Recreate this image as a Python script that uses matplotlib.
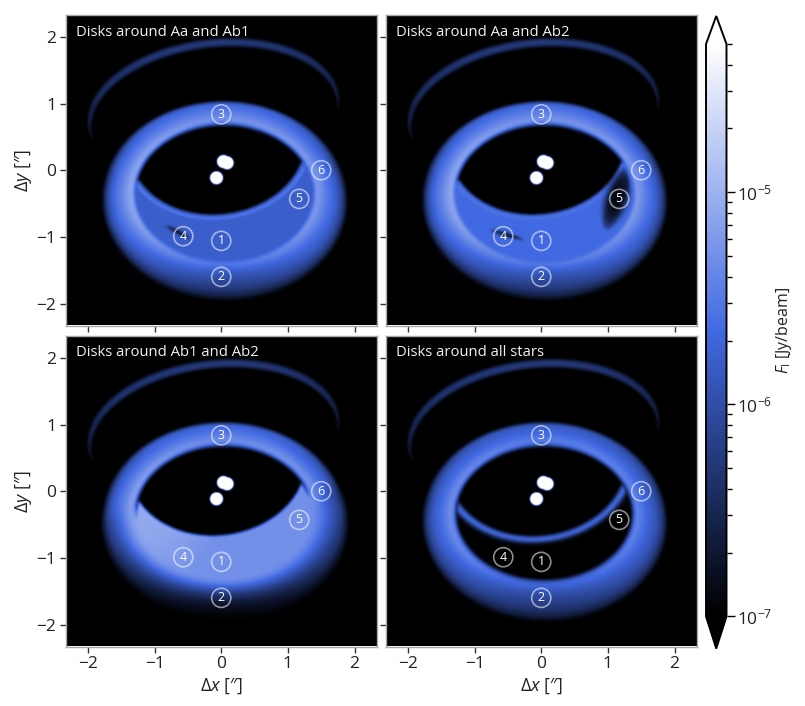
import numpy as np
import matplotlib
matplotlib.use("Agg")
import matplotlib.pyplot as plt
from matplotlib.colors import LinearSegmentedColormap, LogNorm

plt.rcParams['font.family'] = ['Open Sans', 'DejaVu Sans']
plt.rcParams['mathtext.fontset'] = 'custom'
plt.rcParams['mathtext.rm'] = 'Open Sans'
plt.rcParams['mathtext.it'] = 'Open Sans:italic'
plt.rcParams['mathtext.bf'] = 'Open Sans:bold'

# Panels
panel_titles = ["Disks around Aa and Ab1", "Disks around Aa and Ab2",
                "Disks around Ab1 and Ab2", "Disks around all stars"]
# colour position (0 = 1e-7, 1 = 5e-5) for each panel
floor_level = [0.45, 0.50, 0.68, 0.0]
band_level = [0.58, 0.56, 0.0, 0.52]
rim_level = [0.67, 0.67, 0.65, 0.59]

# Radial profile of the ring, inner edge (0) to outer edge (1)
profile_t = [0.0, 0.05, 0.12, 0.22, 0.35, 0.5, 0.7, 0.82, 0.92, 1.0]
profile_p = [0.0, 0.30, 0.82, 1.0, 0.94, 0.84, 0.72, 0.58, 0.34, 0.0]

# Ellipses: centre x, centre y, semi axes, tilt in degrees
ring_inner = (0.04, -0.34, 1.30, 0.98, 0.0)
ring_outer = (0.05, -0.48, 1.86, 1.51, -1.5)
eye_lower = (-0.06, 0.363, 1.32, 1.035, 6.6)
arc_outer = (-0.121, 0.888, 1.90, 1.075, 7.0)
arc_inner = (-0.106, 0.764, 1.86, 1.06, 7.0)

# Shadows per panel: x, y, semi length, semi width, tilt, depth
shadows = [
    [(-0.65, -0.94, 0.22, 0.03, -28, 0.85)],
    [(-0.52, -0.98, 0.27, 0.03, -16, 0.85),
     (1.13, -0.43, 0.50, 0.17, 71, 0.92)],
    [],
    [],
]

# Stars
star_x = [0.03, 0.085, -0.075]
star_y = [0.12, 0.10, -0.125]
star_r = [0.10, 0.10, 0.10]

# Numbered regions
region_x = [0.0, 0.0, 0.0, -0.57, 1.17, 1.50]
region_y = [-1.06, -1.60, 0.84, -0.99, -0.43, 0.0]
region_names = ["1", "2", "3", "4", "5", "6"]

vmin, vmax = 1e-7, 5e-5
xlim = 2.33
n = 640
xs = np.linspace(-xlim, xlim, n)
X, Y = np.meshgrid(xs, xs)


def rotated(el):
    cx, cy, a, b, tilt = el
    th = np.radians(tilt)
    u = (X - cx) * np.cos(th) + (Y - cy) * np.sin(th)
    v = -(X - cx) * np.sin(th) + (Y - cy) * np.cos(th)
    return u, v


def radius(el):
    u, v = rotated(el)
    return np.sqrt((u / el[2]) ** 2 + (v / el[3]) ** 2)


def blur(img, sigma):
    f = np.fft.fftfreq(n, xs[1] - xs[0])
    fy, fx = np.meshgrid(f, f, indexing='ij')
    kernel = np.exp(-2 * np.pi ** 2 * sigma ** 2 * (fx ** 2 + fy ** 2))
    return np.real(np.fft.ifft2(np.fft.fft2(img) * kernel))


def make_panel(i):
    r_in = radius(ring_inner)
    r_out = radius(ring_outer)
    r_eye = radius(eye_lower)
    _, v_eye = rotated(eye_lower)

    # ring between the two ellipses
    inner = r_in - 1
    outer = 1 - r_out
    t = np.clip(inner / np.maximum(inner + outer, 1e-6), 0, 1)
    phi = np.arctan2(Y - ring_inner[1], X - ring_inner[0])
    lower = np.clip(-np.sin(phi), 0, 1)
    upper = np.clip(np.sin(phi), 0, 1)
    left = np.clip(-np.cos(phi), 0, 1)
    # the rim sits further from the edge on the far side
    shape = np.interp(t * (1 - 0.4 * upper ** 2), profile_t, profile_p)
    shape = shape * np.clip((1 - t) / 0.08, 0, 1) ** 0.5
    level = rim_level[i] * (1 - 0.42 * lower ** 2 * t ** 0.6 - 0.1 * upper ** 3 * t + 0.07 * left ** 3)
    p = shape * level
    ring = (r_out <= 1) & (r_in >= 1)
    p[~ring] = 0

    # floor seen below the cavity
    below = (r_in < 1) & (r_eye > 1)
    under_line = v_eye < -0.396
    floor = np.zeros_like(p)
    floor[below] = floor_level[i]
    if i == 2:
        # no distinct rim in this panel, floor runs into the ring
        width = 0.5 + 0.5 * (1 - lower)
        fall = floor_level[i] * (0.92 + 0.12 * left ** 3) * np.exp(-(t / width) ** 2)
        fall = fall * np.clip((1 - t) / 0.15, 0, 1) ** 0.6
        weight = np.clip((-0.396 - v_eye) / 0.25, 0, 1)
        p[ring] = (weight * fall + (1 - weight) * p)[ring]
        floor[below] = floor_level[i] * (0.93 + 0.12 * left[below] ** 3)
    elif floor_level[i] > 0:
        # close the gap between floor and rim
        spread = ring & under_line & (t < 0.15)
        floor[spread] = floor_level[i]
    p = np.maximum(p, floor)

    # bright band just below the cavity edge
    if band_level[i] > 0:
        band = band_level[i] * np.exp(-((r_eye - 1.055) / 0.05) ** 2)
        band[~below] = 0
        p = np.maximum(p, band)

    # shadows from the circumstellar disks
    for sx, sy, sa, sb, tilt, depth in shadows[i]:
        u, v = rotated((sx, sy, sa, sb, tilt))
        taper = np.clip(1 - (u / sa) ** 2, 0, 1)
        mult = 1 - depth * taper ** 0.5 * np.exp(-(v / (sb * (0.25 + 0.75 * taper))) ** 4)
        mult[r_in > 1.0] = 1
        p = p * mult

    # faint outer arc
    ro = radius(arc_outer)
    ri = radius(arc_inner)
    ua, va = rotated(arc_outer)
    inn = ri - 1
    out = 1 - ro
    w = np.clip(inn / np.maximum(inn + out, 1e-6), 0, 1)
    arc = 0.28 * np.sin(np.pi * w) ** 0.5 * np.clip(1 - (ua / 1.95) ** 2, 0, 1) ** 0.2
    arc[(ro > 1) | (ri < 1) | (va < -0.255)] = 0
    p = np.maximum(p, arc)

    p = blur(p, 0.018)

    # stars on top
    stars = np.zeros_like(p)
    for sx, sy, sr in zip(star_x, star_y, star_r):
        d = np.hypot(X - sx, Y - sy)
        stars = np.maximum(stars, np.clip((sr - d) / 0.012, 0, 1) * 1.5)
    stars = blur(stars, 0.01)
    p = np.maximum(p, stars)
    return vmin * (vmax / vmin) ** np.clip(p, 0, 1.2)


cmap = LinearSegmentedColormap.from_list("disk", ["black", "royalblue", "white"])
cmap.set_under("black")
cmap.set_over("white")
norm = LogNorm(vmin=vmin, vmax=vmax)

fig = plt.figure(figsize=(8.05, 7.06), dpi=100)
W, H = 805.0, 706.0
lefts = [66, 386, 66, 386]
tops = [15, 15, 336, 336]
ticks = [-2, -1, 0, 1, 2]

for i in range(4):
    ax = fig.add_axes([lefts[i] / W, (H - tops[i] - 310.5) / H, 310.5 / W, 310.5 / H])
    im = ax.imshow(make_panel(i), origin='lower', extent=[-xlim, xlim, -xlim, xlim],
                   cmap=cmap, norm=norm, interpolation='bilinear', aspect='equal')
    ax.set_xlim(-xlim, xlim)
    ax.set_ylim(-xlim, xlim)
    ax.set_xticks(ticks)
    ax.set_yticks(ticks)
    ax.tick_params(direction='out', length=4, width=1, color='#333333',
                   labelsize=12.5, pad=3, labelcolor='#222222',
                   labelbottom=i >= 2, labelleft=i % 2 == 0)
    for s in ax.spines.values():
        s.set_color('#a8a8a8')
        s.set_linewidth(1)
    if i >= 2:
        ax.set_xlabel("$\\Delta x$ [\u2033]", fontsize=13, color='#222222', labelpad=3)
    if i % 2 == 0:
        ax.set_ylabel("$\\Delta y$ [\u2033]", fontsize=13, color='#222222', labelpad=2)
    ax.text(10 / 310.5, 1 - 17 / 310.5, panel_titles[i], transform=ax.transAxes,
            color='white', fontsize=10.7, va='center', ha='left', alpha=0.95)
    ax.scatter(region_x, region_y, s=190, facecolors='none',
               edgecolors=(1, 1, 1, 0.55), linewidths=1.2, zorder=3)
    for rx, ry, name in zip(region_x, region_y, region_names):
        ax.text(rx, ry, name, color='white', fontsize=9, ha='center', va='center', zorder=4)

# axes box covers the two arrows as well
cax = fig.add_axes([706 / W, (H - 648.5) / H, 20.5 / W, 632.5 / H])
cbar = fig.colorbar(im, cax=cax, extend='both', extendfrac=[0.056, 0.049])
cbar.outline.set_linewidth(1.4)
cbar.outline.set_edgecolor('black')
cbar.ax.tick_params(which='major', length=6, width=1, labelsize=12.5, labelcolor='#222222', pad=1.5)
cbar.ax.tick_params(which='minor', length=3.5, width=1)
cbar.set_label("$F_\\mathrm{I}$ [Jy/beam]", fontsize=11.5, color='#222222', labelpad=1)

fig.savefig("out.png", dpi=100)
